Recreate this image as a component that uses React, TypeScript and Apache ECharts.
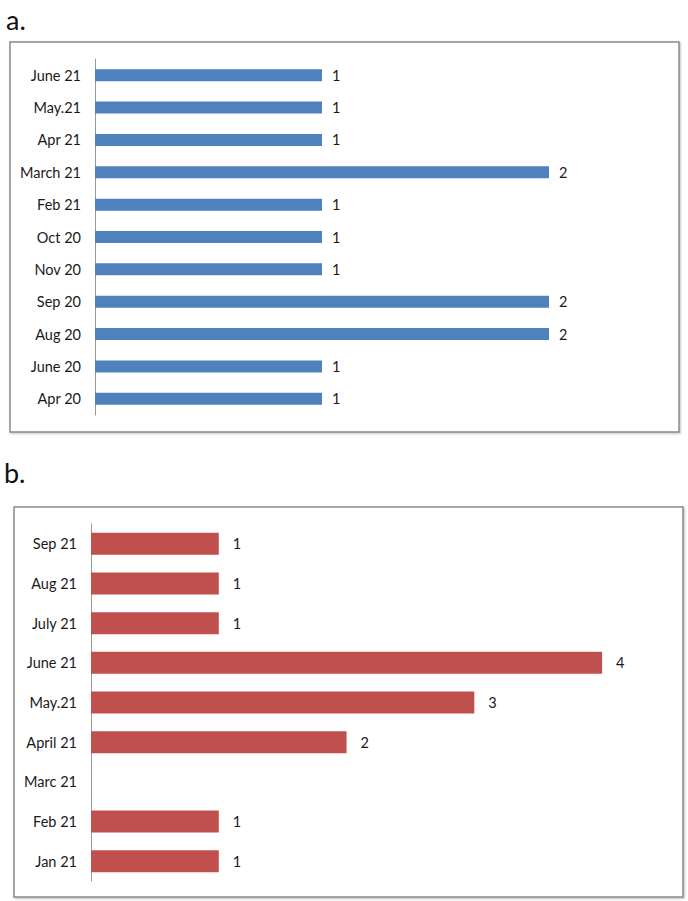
import React, { useEffect, useRef } from "react";
import * as echarts from "echarts";

const catsA = ["Apr 20", "June 20", "Aug 20", "Sep 20", "Nov 20", "Oct 20", "Feb 21", "March 21", "Apr 21", "May.21", "June 21"];
const valsA = [1, 1, 2, 2, 1, 1, 1, 2, 1, 1, 1];
const catsB = ["Jan 21", "Feb 21", "Marc 21", "April 21", "May.21", "June 21", "July 21", "Aug 21", "Sep 21"];
const valsB: (number | null)[] = [1, 1, null, 2, 3, 4, 1, 1, 1];

const FONT = "Lato";

export default function App() {
  const ref = useRef<HTMLDivElement>(null);
  useEffect(() => {
    const chart = echarts.init(ref.current!, null, { renderer: "svg" });
    const labelStyle = { color: "#1a1a1a", fontSize: 14.5, fontFamily: FONT };
    chart.setOption({
      animation: false,
      backgroundColor: "#fff",
      graphic: [
        { type: "rect", shape: { x: 10, y: 42, width: 669, height: 390 }, style: { fill: "#fff", stroke: "#8a8a8a", lineWidth: 1.5, shadowColor: "rgba(0,0,0,0.25)", shadowBlur: 2, shadowOffsetX: 1, shadowOffsetY: 1 }, z: -10 },
        { type: "rect", shape: { x: 14, y: 507, width: 669, height: 390 }, style: { fill: "#fff", stroke: "#8a8a8a", lineWidth: 1.5, shadowColor: "rgba(0,0,0,0.25)", shadowBlur: 2, shadowOffsetX: 1, shadowOffsetY: 1 }, z: -10 },
        { type: "text", x: 6, y: 19.5, style: { text: "a.", fontSize: 27, fontFamily: FONT, fill: "#111", textVerticalAlign: "middle" } },
        { type: "text", x: 4, y: 472, style: { text: "b.", fontSize: 27, fontFamily: FONT, fill: "#111", textVerticalAlign: "middle" } },
      ],
      grid: [
        { left: 95, top: 59, width: 567.5, height: 356 },
        { left: 91, top: 524, width: 575, height: 357 },
      ],
      xAxis: [
        { type: "value", gridIndex: 0, min: 0, max: 2.5, show: false },
        { type: "value", gridIndex: 1, min: 0, max: 4.5, show: false },
      ],
      yAxis: [
        {
          type: "category", gridIndex: 0, data: catsA,
          axisLine: { show: true, lineStyle: { color: "#999", width: 1 } },
          axisTick: { show: false },
          axisLabel: { ...labelStyle, margin: 14 },
          splitLine: { show: false },
        },
        {
          type: "category", gridIndex: 1, data: catsB,
          axisLine: { show: true, lineStyle: { color: "#999", width: 1 } },
          axisTick: { show: false },
          axisLabel: { ...labelStyle, margin: 14 },
          splitLine: { show: false },
        },
      ],
      series: [
        {
          type: "bar", xAxisIndex: 0, yAxisIndex: 0, data: valsA, barWidth: 12,
          itemStyle: { color: "#4f81bd" },
          label: { show: true, position: "right", distance: 10, ...labelStyle },
        },
        {
          type: "bar", xAxisIndex: 1, yAxisIndex: 1, data: valsB, barWidth: 22,
          itemStyle: { color: "#c0504d" },
          label: { show: true, position: "right", distance: 14, ...labelStyle },
        },
      ],
    });
    return () => chart.dispose();
  }, []);
  return <div ref={ref} style={{ position: "absolute", left: 0, top: 0, width: 688, height: 901 }} />;
}
